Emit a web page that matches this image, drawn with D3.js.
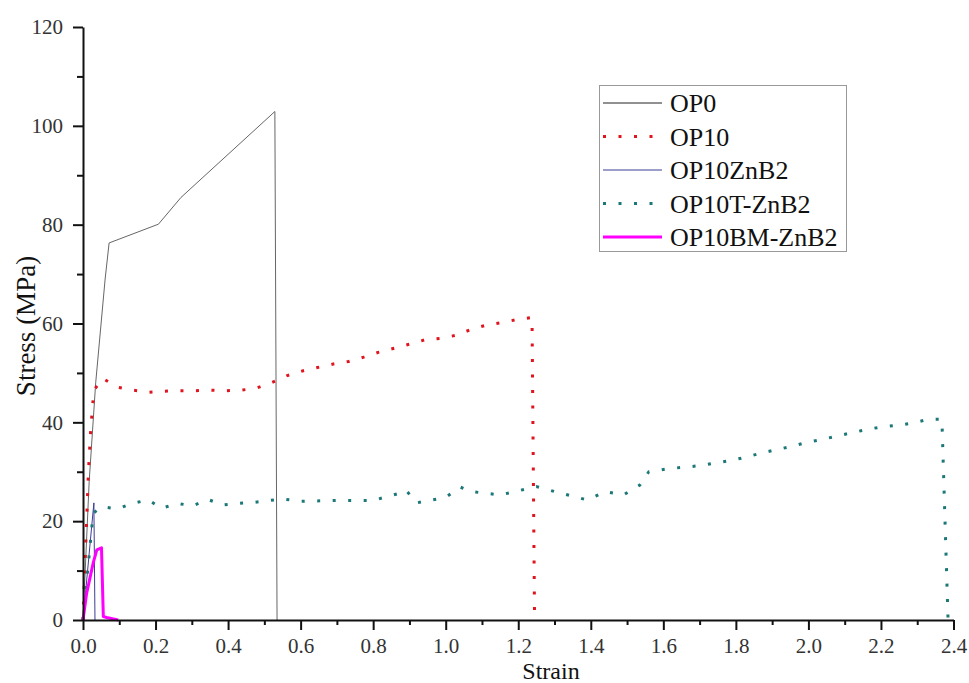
<!DOCTYPE html>
<html>
<head>
<meta charset="utf-8">
<script src="https://cdn.jsdelivr.net/npm/d3@7"></script>
<style>
  body { margin: 0; background: #fff; }
</style>
</head>
<body>
<div id="viscontainer"></div>
<script>
// strain / stress pairs
const op0 = [
  [0, 0], [0.017, 28], [0.035, 48], [0.061, 69], [0.072, 76.3],
  [0.208, 80.1], [0.27, 85.5], [0.529, 102.9], [0.535, 0],
];
const op10 = [
  [0, 0], [0.005, 10], [0.01, 20], [0.015, 30], [0.02, 37], [0.025, 42],
  [0.03, 46.5], [0.054, 48.9], [0.096, 47.1], [0.139, 46.5], [0.181, 46.1],
  [0.224, 46.3], [0.265, 46.4], [0.308, 46.4], [0.35, 46.5], [0.392, 46.4],
  [0.435, 46.5], [0.477, 46.9], [0.519, 48.0], [0.561, 49.4], [0.605, 50.4],
  [0.647, 51.1], [0.69, 51.8], [0.732, 52.3], [0.774, 53.2], [0.816, 54.2],
  [0.858, 55.0], [0.9, 55.8], [0.943, 56.7], [0.985, 57.0], [1.028, 57.6],
  [1.07, 58.8], [1.113, 59.7], [1.155, 60.2], [1.197, 60.8], [1.238, 61.2],
  [1.245, 0],
];
const op10ZnB2 = [[0, 0], [0.03, 23.7], [0.033, 0]];
const op10TZnB2 = [
  [0, 0], [0.028, 21.6], [0.051, 22.9], [0.095, 22.5], [0.137, 23.6],
  [0.18, 24.3], [0.217, 22.6], [0.26, 23.6], [0.302, 23.1], [0.344, 24.4],
  [0.385, 23.3], [0.428, 23.6], [0.471, 23.8], [0.55, 24.5], [0.6, 24.0],
  [0.7, 24.2], [0.8, 24.2], [0.87, 25.6], [0.89, 26.3], [0.92, 23.7],
  [1.0, 24.8], [1.04, 26.9], [1.07, 26.0], [1.15, 25.3], [1.25, 27.0],
  [1.3, 26.0], [1.39, 24.3], [1.44, 26.0], [1.49, 25.3], [1.535, 27.3],
  [1.56, 30.0], [1.611, 30.6], [1.655, 30.9], [1.697, 31.2], [1.739, 31.7],
  [1.781, 32.2], [1.825, 32.9], [1.866, 33.7], [1.908, 34.4], [1.951, 35.1],
  [1.993, 35.9], [2.035, 36.5], [2.077, 37.2], [2.12, 37.9], [2.163, 38.6],
  [2.205, 39.1], [2.247, 39.4], [2.29, 39.9], [2.331, 40.6], [2.368, 40.6],
  [2.385, 0],
];
const op10BMZnB2 = [
  [0, 0], [0.01, 5.4], [0.028, 11.5], [0.038, 14.2], [0.051, 14.6],
  [0.056, 0.7], [0.065, 0.5], [0.097, 0],
];

const seriesNames = ["OP0", "OP10", "OP10ZnB2", "OP10T-ZnB2", "OP10BM-ZnB2"];
const seriesValues = [op0, op10, op10ZnB2, op10TZnB2, op10BMZnB2];

const xTicks = [0, 0.2, 0.4, 0.6, 0.8, 1.0, 1.2, 1.4, 1.6, 1.8, 2.0, 2.2, 2.4];
const yTicks = [0, 20, 40, 60, 80, 100, 120];

const serif = "Liberation Serif";

function makeVis() {
  const width = 969;
  const height = 683;
  const marginTop = 27;
  const marginBottom = 63;
  const marginLeft = 83;
  const marginRight = 15.5;

  const styles = [
    { color: "#666", width: 1, dash: null },
    { color: "#e0141e", width: 3, dash: "3,12.5" },
    { color: "#3c3c96", width: 1, dash: null },
    { color: "#1c7878", width: 3, dash: "3,12.5" },
    { color: "#ff00ff", width: 3, dash: null },
  ];

  const svg = d3.create("svg")
    .attr("width", width)
    .attr("height", height)
    .attr("font-family", serif);
  viscontainer.append(svg.node());

  const x = d3.scaleLinear().domain([0, 2.4]).range([marginLeft, width - marginRight]);
  const y = d3.scaleLinear().domain([0, 120]).range([height - marginBottom, marginTop]);

  const line = d3.line().x((d) => x(d[0])).y((d) => y(d[1]));

  // curves
  svg.append("g")
    .selectAll("path")
    .data(seriesValues)
    .join("path")
    .attr("d", (d) => line(d))
    .attr("fill", "none")
    .attr("stroke", (d, i) => styles[i].color)
    .attr("stroke-width", (d, i) => styles[i].width)
    .attr("stroke-dasharray", (d, i) => styles[i].dash)
    .attr("stroke-linejoin", "round");

  // minor ticks
  const xMinor = d3.range(0.1, 2.4, 0.2);
  const yMinor = d3.range(10, 120, 20);
  svg.append("g")
    .attr("transform", `translate(0, ${y(0)})`)
    .call(d3.axisBottom(x).tickValues(xMinor).tickSize(5).tickFormat(""))
    .call((g) => g.select(".domain").remove())
    .call((g) => g.selectAll("line").attr("stroke-width", 2).attr("stroke", "#111"));
  svg.append("g")
    .attr("transform", `translate(${x(0)}, 0)`)
    .call(d3.axisLeft(y).tickValues(yMinor).tickSize(6).tickFormat(""))
    .call((g) => g.select(".domain").remove())
    .call((g) => g.selectAll("line").attr("stroke-width", 2).attr("stroke", "#111"));

  // main axes
  const xAxis = svg.append("g")
    .attr("transform", `translate(0, ${y(0)})`)
    .call(d3.axisBottom(x).tickValues(xTicks).tickSize(10).tickPadding(8)
      .tickSizeOuter(0).tickFormat(d3.format(".1f")));
  const yAxis = svg.append("g")
    .attr("transform", `translate(${x(0)}, 0)`)
    .call(d3.axisLeft(y).tickValues(yTicks).tickSize(10).tickPadding(10)
      .tickSizeOuter(0).tickFormat(d3.format("d")));
  [xAxis, yAxis].forEach((g) => {
    g.attr("font-family", serif).attr("font-size", 21);
    g.select(".domain").attr("stroke-width", 2).attr("stroke", "#111");
    g.selectAll(".tick line").attr("stroke-width", 2).attr("stroke", "#111");
    g.selectAll(".tick text").attr("fill", "#333");
  });

  // axis titles
  svg.append("text")
    .attr("x", 551)
    .attr("y", 679)
    .attr("text-anchor", "middle")
    .attr("font-size", 24)
    .attr("fill", "#111")
    .text("Strain");
  svg.append("text")
    .attr("transform", "translate(35, 326) rotate(-90)")
    .attr("text-anchor", "middle")
    .attr("font-size", 27)
    .attr("fill", "#111")
    .text("Stress (MPa)");

  // legend
  const legend = svg.append("g");
  legend.append("rect")
    .attr("x", 599.5)
    .attr("y", 85.5)
    .attr("width", 247)
    .attr("height", 166)
    .attr("fill", "#fff")
    .attr("stroke", "#999")
    .attr("stroke-width", 1);
  const rowY = d3.scalePoint().domain(seriesNames).range([103, 237]);
  const items = legend.selectAll("g.item")
    .data(seriesNames)
    .join("g")
    .attr("class", "item")
    .attr("transform", (d) => `translate(0, ${rowY(d)})`);
  items.append("line")
    .attr("x1", 603)
    .attr("x2", 662)
    .attr("stroke", (d, i) => (i === 0 ? "#222" : styles[i].color))
    .attr("stroke-width", (d, i) => styles[i].width)
    .attr("stroke-dasharray", (d, i) => styles[i].dash);
  items.append("text")
    .attr("x", 670)
    .attr("y", 9)
    .attr("font-size", 26)
    .attr("fill", "#111")
    .text((d) => d);
}

makeVis();
</script>
</body>
</html>
